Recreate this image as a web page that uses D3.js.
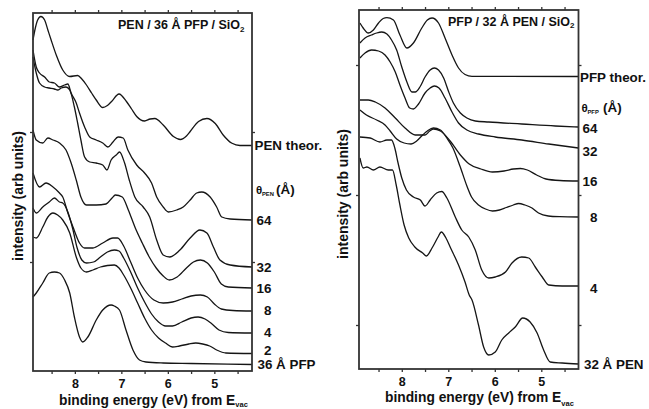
<!DOCTYPE html>
<html><head><meta charset="utf-8">
<script src="https://cdn.jsdelivr.net/npm/d3@7/dist/d3.min.js"></script>
<style>
body{margin:0;background:#fff}
svg{display:block}
text{font-family:"Liberation Sans",Arial,Helvetica,sans-serif;font-weight:bold;fill:#111}
</style></head><body>
<svg id="chart" width="649" height="409"></svg>
<script>
// ---------- DATA (binding energy eV, intensity arb. units) ----------
const energyTicks = [8.5, 8, 7.5, 7, 6.5, 6, 5.5, 5, 4.5];

// Left panel: PEN / 36 Å PFP / SiO2
const leftLabels = ["PEN theor.", "64", "32", "16", "8", "4", "2", "36 Å PFP"];
const penTheorL = [[8.90,352],[8.85,364],[8.80,372],[8.73,375.5],[8.65,372],[8.58,362],[8.51,352],[8.40,337],[8.26,322],[8.11,315.5],[7.94,316.5],[7.85,313],[7.75,307],[7.64,299],[7.54,292],[7.40,284.5],[7.30,286.5],[7.21,290.5],[7.05,298],[6.89,290.5],[6.78,283],[6.67,275.5],[6.50,271],[6.38,273],[6.28,273.5],[6.10,267],[5.88,255.5],[5.73,252.5],[5.60,256],[5.52,260.5],[5.34,270.5],[5.16,273.5],[4.98,268.5],[4.81,257],[4.62,248.7],[4.45,246.5],[4.19,246.5]];
const pen64 = [[8.90,342],[8.83,325],[8.76,319],[8.65,315],[8.55,310],[8.44,309],[8.33,305],[8.22,307],[8.15,308],[8.08,299],[7.97,289],[7.90,279],[7.79,265],[7.68,255],[7.54,252],[7.40,249],[7.29,245],[7.18,250],[7.07,255],[6.96,254],[6.86,242],[6.67,227],[6.50,219],[6.35,209],[6.24,195],[6.10,185],[5.99,180],[5.81,182],[5.67,185],[5.52,192],[5.38,199],[5.27,200],[5.09,195],[4.95,185],[4.84,175],[4.66,173],[4.19,172]];
const pen32 = [[8.90,335],[8.83,319],[8.76,309],[8.65,305],[8.55,304],[8.44,303],[8.37,302],[8.29,304],[8.19,305],[8.11,302],[8.01,285],[7.94,269],[7.87,252],[7.79,235],[7.68,230],[7.54,229],[7.40,227],[7.31,222],[7.22,232],[7.11,237],[7.04,240],[6.93,229],[6.83,212],[6.71,195],[6.53,185],[6.39,175],[6.24,152],[6.10,137],[5.96,135],[5.74,142],[5.52,154],[5.31,162],[5.16,159],[5.02,145],[4.88,132],[4.66,127],[4.19,125]];
const pen16 = [[8.90,262],[8.83,252],[8.69,249],[8.58,254],[8.47,252],[8.33,249],[8.19,242],[8.08,229],[7.97,212],[7.87,195],[7.75,187],[7.54,187],[7.33,188],[7.20,194],[7.13,197],[6.98,195],[6.85,182],[6.70,164],[6.55,149],[6.40,135],[6.25,124],[6.10,116],[5.97,112],[5.80,115],[5.60,124],[5.45,130],[5.30,132],[5.15,129],[5.00,120],[4.85,108],[4.70,105],[4.19,104]];
const pen8 = [[8.90,219],[8.76,205],[8.62,209],[8.47,205],[8.33,199],[8.26,195],[8.15,179],[8.04,165],[7.90,149],[7.79,144],[7.61,144],[7.40,149],[7.18,154],[7.08,154],[6.95,146],[6.80,130],[6.65,114],[6.50,102],[6.30,92],[6.10,89],[5.90,90],[5.70,93],[5.50,96],[5.30,97],[5.15,95],[5.00,88],[4.85,83],[4.60,81.5],[4.19,81]];
const pen4 = [[8.90,184],[8.83,179],[8.69,185],[8.55,190],[8.44,194],[8.33,190],[8.26,189],[8.15,180],[8.05,164],[7.95,144],[7.85,132],[7.75,129],[7.60,130],[7.45,135],[7.30,140],[7.15,142],[7.05,141],[6.95,134],[6.80,120],[6.65,104],[6.50,90],[6.35,78],[6.20,70],[6.05,66],[5.90,66],[5.70,70],[5.50,74],[5.35,75],[5.20,73],[5.05,68],[4.90,62],[4.70,59.5],[4.19,59]];
const pen2 = [[8.90,155],[8.83,154],[8.69,165],[8.58,175],[8.47,179],[8.37,177],[8.26,172],[8.11,159],[7.97,135],[7.87,124],[7.75,120],[7.61,122],[7.45,125],[7.30,126.5],[7.15,127],[7.05,124],[6.95,117],[6.80,104],[6.65,89],[6.50,74],[6.35,62],[6.20,54],[6.05,49],[5.90,45],[5.75,46],[5.55,48],[5.40,49],[5.25,48],[5.10,46],[4.95,42],[4.75,39],[4.19,38.5]];
const pfp36 = [[8.90,95],[8.83,99],[8.69,109],[8.55,119],[8.44,120],[8.33,119],[8.22,112],[8.11,99],[8.01,75],[7.90,55],[7.83,50],[7.72,55],[7.54,72],[7.40,82],[7.22,87],[7.15,86],[7.04,82],[6.90,62],[6.75,42],[6.61,32],[6.47,30],[6.10,29],[5.50,28.5],[4.19,27.5]];

// Right panel: PFP / 32 Å PEN / SiO2
const rightLabels = ["PFP theor.", "64", "32", "16", "8", "4", "32 Å PEN"];
const pfpTheorR = [[8.90,432],[8.83,427],[8.72,422],[8.61,425],[8.50,432],[8.40,436.5],[8.32,437.3],[8.18,435],[8.04,420],[7.89,407],[7.75,412],[7.57,427],[7.45,435],[7.35,437],[7.21,432],[7.07,417],[6.92,400],[6.78,387],[6.64,380.5],[6.49,378.7],[4.20,378.5]];
const pfp64 = [[8.90,412],[8.79,417],[8.65,420],[8.54,422],[8.43,423],[8.32,421],[8.22,415],[8.11,405],[8.00,388],[7.89,373],[7.78,363],[7.71,363],[7.61,368],[7.50,378],[7.39,385],[7.30,387],[7.21,385],[7.10,377],[6.99,363],[6.89,352],[6.74,342],[6.60,337],[6.42,334],[6.13,333],[5.42,331],[4.70,329],[4.20,328]];
const pfp32 = [[8.90,397],[8.79,402],[8.65,405],[8.50,404],[8.36,400],[8.25,393],[8.14,383],[8.04,370],[7.93,357],[7.83,347],[7.75,346],[7.64,351],[7.50,362],[7.39,367],[7.30,369],[7.20,367],[7.07,357],[6.92,343],[6.78,332],[6.60,325],[6.35,321],[5.99,318],[5.42,315],[4.84,311],[4.20,307]];
const pfp16 = [[8.90,355],[8.72,355],[8.57,353],[8.36,347],[8.14,337],[7.93,327],[7.71,320],[7.50,320],[7.40,324],[7.32,326],[7.17,324],[6.96,314],[6.74,300],[6.55,291],[6.30,286],[6.05,283],[5.80,284],[5.60,286],[5.45,286.5],[5.30,285],[5.10,280],[4.90,276],[4.60,274.5],[4.20,274]];
const pfp8 = [[8.90,345],[8.76,340],[8.54,335],[8.36,330],[8.25,324],[8.11,316],[7.95,312],[7.80,311],[7.68,314],[7.55,320],[7.45,324],[7.32,327],[7.17,325],[7.03,317],[6.90,307],[6.75,289],[6.60,269],[6.50,258],[6.35,250],[6.20,246],[6.05,244],[5.90,245],[5.75,247.5],[5.60,250],[5.49,251.5],[5.35,250],[5.20,247],[5.06,242],[4.85,239],[4.60,238.3],[4.20,238]];
const pfp4 = [[8.90,318],[8.68,317],[8.47,313],[8.32,315],[8.22,315],[8.15,307],[8.08,292],[8.00,277],[7.90,265],[7.75,258],[7.60,255],[7.50,249],[7.39,255],[7.25,262],[7.14,263.5],[7.03,257],[6.85,238],[6.71,225],[6.56,218],[6.42,205],[6.28,185],[6.13,177],[5.99,178],[5.77,183],[5.63,192],[5.42,198],[5.27,197],[5.13,188],[4.98,178],[4.84,170],[4.55,169],[4.20,169]];
const pen32R = [[8.90,297],[8.83,287],[8.75,288],[8.61,285],[8.47,288],[8.29,285],[8.20,285],[8.12,270],[8.04,250],[7.95,230],[7.85,217],[7.72,208],[7.55,202],[7.47,199],[7.35,207],[7.22,218],[7.15,223],[7.05,217],[6.95,207],[6.78,190],[6.64,173],[6.55,160],[6.49,155],[6.35,130],[6.24,108],[6.13,100],[5.99,103],[5.85,115],[5.70,122],[5.56,128],[5.40,137],[5.24,133],[5.09,122],[4.95,105],[4.81,93],[4.55,92],[4.20,91]];

// ---------- LAYOUT ----------
const svg = d3.select("#chart");
const panels = [
  {xDomain:[8.9,4.19], xr:[33,252], yDomain:[21,379], yr:[371,13], yTicks:[130,260],
   curves:[penTheorL,pen64,pen32,pen16,pen8,pen4,pen2,pfp36], labels:leftLabels,
   labelNudge:[0,0,0,0,-1,-1,-3.5,-0.5], numX:271.5, textX:[254.5,0,0,0,0,0,0,257.5],
   title:["PEN / 36 Å PFP / SiO","2"], titleX:118, titleY:29,
   theta:{x:256,y:193.5,sub:"PEN",ax:20}, xlabY:404.5, subDy:2.5, xlabX:59, ylabX:22.5, ylabY:196},
  {xDomain:[8.92,4.2], xr:[359,578.5], yDomain:[86,445], yr:[369,10], yTicks:[130,260,390],
   curves:[pfpTheorR,pfp64,pfp32,pfp16,pfp8,pfp4,pen32R], labels:rightLabels,
   labelNudge:[0.5,1,3.5,0.5,0,2,0], numX:597.5, textX:[580,0,0,0,0,0,584],
   title:["PFP / 32 Å PEN / SiO","2"], titleX:448, titleY:25.5,
   theta:{x:581.5,y:112,sub:"PFP",ax:21.5}, xlabY:402, subDy:4, xlabX:385, ylabX:348, ylabY:194}
];

panels.forEach(p => {
  const x = d3.scaleLinear().domain(p.xDomain).range(p.xr);
  const y = d3.scaleLinear().domain(p.yDomain).range(p.yr);
  const g = svg.append("g");

  // curves
  const line = d3.line().x(d => x(d[0])).y(d => y(d[1])).curve(d3.curveMonotoneX);
  p.curves.forEach(c => {
    g.append("path").attr("d", line(c)).attr("fill","none")
      .attr("stroke","#151515").attr("stroke-width", 1.3).attr("stroke-linejoin","round");
  });

  // axes (ticks only; frame drawn separately)
  const axStyle = a => a.call(s => s.select(".domain").remove())
    .call(s => s.selectAll("line").attr("stroke","#333").attr("stroke-width",1.3));
  g.append("g").attr("transform",`translate(0,${p.yr[0]})`)
    .call(d3.axisBottom(x).tickValues(energyTicks).tickSize(3).tickPadding(5)
      .tickFormat(d => Number.isInteger(d) ? d : ""))
    .call(axStyle)
    .call(s => s.selectAll("text").attr("font-size","12.5px").attr("font-weight","bold")
      .attr("font-family",'"Liberation Sans",Arial,sans-serif').attr("fill","#111"));
  g.append("g").attr("transform",`translate(0,${p.yr[1]})`)
    .call(d3.axisTop(x).tickValues(energyTicks).tickSize(3).tickFormat(""))
    .call(axStyle);
  g.append("g").attr("transform",`translate(${p.xr[0]},0)`)
    .call(d3.axisLeft(y).tickValues(p.yTicks).tickSize(3).tickFormat(""))
    .call(axStyle);
  g.append("g").attr("transform",`translate(${p.xr[1]},0)`)
    .call(d3.axisRight(y).tickValues(p.yTicks).tickSize(3).tickFormat(""))
    .call(axStyle);

  // frame
  g.append("rect").attr("x",p.xr[0]).attr("y",p.yr[1])
    .attr("width",p.xr[1]-p.xr[0]).attr("height",p.yr[0]-p.yr[1])
    .attr("fill","none").attr("stroke","#333").attr("stroke-width",1.8);

  // curve labels
  p.curves.forEach((c, i) => {
    const last = c[c.length-1];
    const isNum = /^\d+$/.test(p.labels[i]);
    g.append("text")
      .attr("x", isNum ? p.numX : p.textX[i])
      .attr("y", y(last[1]) + p.labelNudge[i])
      .attr("dy","0.36em")
      .attr("text-anchor", isNum ? "end" : "start")
      .attr("font-size","13.4px")
      .text(p.labels[i]);
  });

  // theta label
  g.append("text").attr("x",p.theta.x).attr("y",p.theta.y)
    .attr("font-size","11.5px").attr("font-weight","normal")
    .attr("font-family",'"DejaVu Sans",sans-serif').text("θ");
  g.append("text").attr("x",p.theta.x+6).attr("y",p.theta.y+2)
    .attr("font-size","5.8px").text(p.theta.sub);
  g.append("text").attr("x",p.theta.x+p.theta.ax).attr("y",p.theta.y)
    .attr("font-size","13.4px").text("(Å)");

  // panel title
  const t = g.append("text").attr("x",p.titleX).attr("y",p.titleY).attr("font-size","12.5px");
  t.append("tspan").text(p.title[0]);
  t.append("tspan").attr("font-size","8px").attr("dy","2.5").text(p.title[1]);

  // x axis title
  const xt = g.append("text").attr("x",p.xlabX).attr("y",p.xlabY).attr("font-size","13.8px");
  xt.append("tspan").text("binding energy (eV) from E");
  xt.append("tspan").attr("font-size","7.5px").attr("dy",p.subDy).text("vac");

  // y axis title
  g.append("text").attr("transform",`translate(${p.ylabX},${p.ylabY}) rotate(-90)`)
    .attr("text-anchor","middle").attr("font-size","14px").text("intensity (arb units)");
});
</script>
</body></html>
